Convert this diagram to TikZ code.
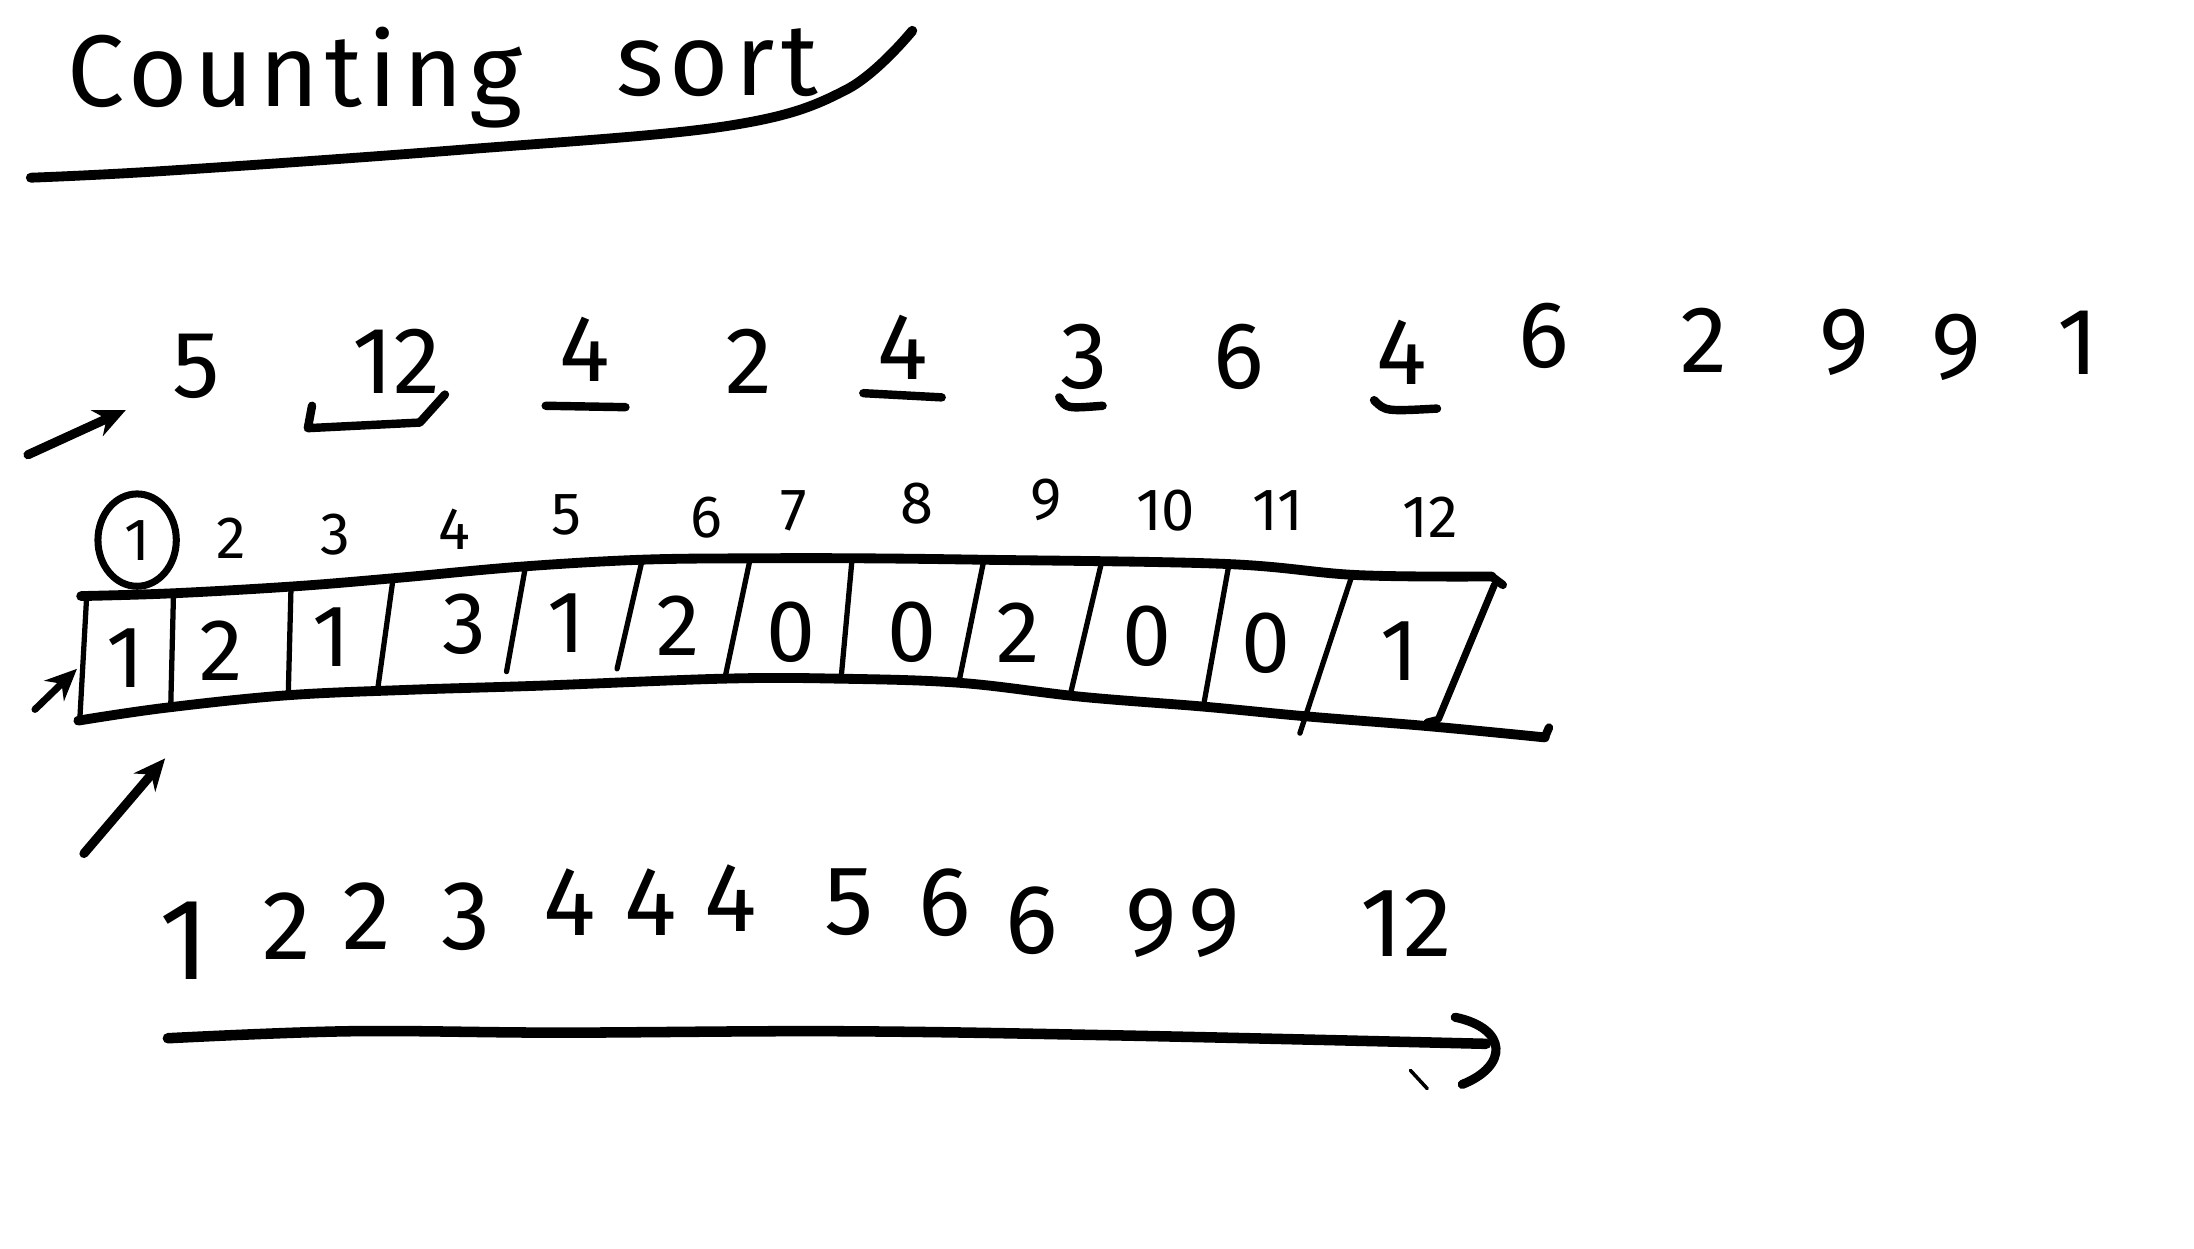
\documentclass[tikz,border=0pt]{standalone}
\usepackage{fontspec}
\setmainfont{Fira Sans}
\usetikzlibrary{arrows.meta}
\begin{document}
\begin{tikzpicture}[x=0.014cm,y=-0.014cm,
  pen/.style={line width=2.4pt,line cap=round,line join=round},
  thinpen/.style={line width=1.5pt,line cap=round,line join=round},
  penarrow/.style={line width=2.6pt,line cap=round,-{Stealth[length=9pt,width=8pt]}},
  titletxt/.style={font=\fontsize{29}{34}\selectfont\addfontfeature{LetterSpace=6},anchor=base west,inner sep=0pt},
  inputnum/.style={font=\fontsize{27}{32}\selectfont,inner sep=0pt},
  idxnum/.style={font=\fontsize{17}{20}\selectfont,inner sep=0pt},
  cellnum/.style={font=\fontsize{25}{30}\selectfont,inner sep=0pt},
  outnum/.style={font=\fontsize{28}{34}\selectfont,inner sep=0pt}]
\useasboundingbox (0,0) rectangle (1568,892);

% title
\node[titletxt] (t1) at (48,76) {Counting};
\node[titletxt] (t2) at (440,68) {sort};
\draw[pen,line width=2.8pt] plot[smooth,tension=0.6] coordinates {(22,127) (120,122) (330,107) (520,90) (605,64) (652,22)};

% input row
\node[inputnum] (a1) at (140,262) {5};
\node[inputnum] (a2) at (283,258) {12};
\node[inputnum] (a3) at (418,250) {4};
\node[inputnum] (a4) at (535,258) {2};
\node[inputnum] (a5) at (645,248) {4};
\node[inputnum] (a6) at (775,255) {3};
\node[inputnum] (a7) at (885,255) {6};
\node[inputnum] (a8) at (1002,252) {4};
\node[inputnum] (a9) at (1103,240) {6};
\node[inputnum] (a10) at (1218,243) {2};
\node[inputnum] (a11) at (1318,245) {9};
\node[inputnum] (a12) at (1398,248) {9};
\node[inputnum] (a13) at (1485,245) {1};
\draw[pen] (223,290) -- (220,306) -- (300,302) -- (318,282);
\draw[pen] (390,290) -- (447,291);
\draw[pen] (617,281) -- (673,284);
\draw[pen] (757,284) .. controls (762,292) .. (788,290);
\draw[pen] (982,286) .. controls (990,294) .. (1027,292);
\coordinate (p1s) at (20,325);
\coordinate (p1e) at (90,293);
\draw[penarrow] (p1s) -- (p1e);

% index row
\node[idxnum] (i1) at (98,386) {1};
\draw[pen,line width=2pt] (i1) ellipse [x radius=28, y radius=33];
\node[idxnum] (i2) at (165,385) {2};
\node[idxnum] (i3) at (240,382) {3};
\node[idxnum] (i4) at (325,378) {4};
\node[idxnum] (i5) at (405,368) {5};
\node[idxnum] (i6) at (505,370) {6};
\node[idxnum] (i7) at (567,365) {7};
\node[idxnum] (i8) at (655,360) {8};
\node[idxnum] (i9) at (748,357) {9};
\node[idxnum] (i10) at (833,365) {10};
\node[idxnum] (i11) at (913,365) {11};
\node[idxnum] (i12) at (1022,370) {12};

% count array
\draw[pen,line width=2.8pt] plot[smooth,tension=0.6] coordinates {(58,426) (124,424) (211,419) (284,413) (372,405) (459,400) (540,399) (613,399) (700,400) (875,403) (970,411) (1066,412)};
\draw[pen] (1066,412) -- (1074,418);
\draw[pen,line width=2.8pt] plot[smooth,tension=0.6] coordinates {(56,515) (117,506) (204,497) (292,493) (387,490) (518,485) (598,485) (686,488) (773,498) (860,505) (934,512) (1021,519) (1104,527)};
\draw[pen] (1104,527) -- (1107,520);
\draw[thinpen] (62,425) -- (57,515);
\draw[thinpen] (124,424) -- (122,506);
\draw[thinpen] (208,419) -- (206,497);
\draw[thinpen] (281,413) -- (270,492);
\draw[thinpen] (375,408) -- (362,480);
\draw[thinpen] (459,400) -- (441,478);
\draw[thinpen] (536,400) -- (518,485);
\draw[thinpen] (609,399) -- (601,486);
\draw[thinpen] (703,401) -- (685,489);
\draw[thinpen] (787,403) -- (765,496);
\draw[thinpen] (878,405) -- (860,505);
\draw[thinpen] (966,412) -- (929,524);
\draw[pen,line width=2pt] (1068,418) -- (1028,514) -- (1020,516);

\node[cellnum] (c1) at (90,470) {1};
\node[cellnum] (c2) at (158,465) {2};
\node[cellnum] (c3) at (237,455) {1};
\node[cellnum] (c4) at (332,446) {3};
\node[cellnum] (c5) at (405,445) {1};
\node[cellnum] (c6) at (485,447) {2};
\node[cellnum] (c7) at (565,452) {0};
\node[cellnum] (c8) at (652,452) {0};
\node[cellnum] (c9) at (728,452) {2};
\node[cellnum] (c10) at (820,455) {0};
\node[cellnum] (c11) at (905,460) {0};
\node[cellnum] (c12) at (1000,465) {1};

\coordinate (p2s) at (25,507);
\coordinate (p2e) at (55,478);
\draw[penarrow,line width=2pt] (p2s) -- (p2e);
\coordinate (p3s) at (60,610);
\coordinate (p3e) at (118,542);
\draw[penarrow] (p3s) -- (p3e);

% sorted output
\node[outnum,font=\fontsize{33}{38}\selectfont] (b1) at (132,672) {1};
\node[outnum] (b2) at (205,662) {2};
\node[outnum] (b3) at (262,655) {2};
\node[outnum] (b4) at (333,655) {3};
\node[outnum] (b5) at (407,645) {4};
\node[outnum] (b6) at (465,645) {4};
\node[outnum] (b7) at (522,642) {4};
\node[outnum] (b8) at (607,645) {5};
\node[outnum] (b9) at (675,645) {6};
\node[outnum] (b10) at (737,658) {6};
\node[outnum] (b11) at (823,660) {9};
\node[outnum] (b12) at (868,660) {9};
\node[outnum] (b13) at (1005,660) {12};

\draw[pen,line width=3pt] plot[smooth,tension=0.6] coordinates {(120,742) (250,737) (400,738) (600,737) (800,740) (1062,746)};
\draw[pen,line width=2.6pt] (1040,727) .. controls (1078,735) and (1078,762) .. (1045,775);
\draw[line width=1pt,line cap=round] (1008,765) -- (1020,778);
\end{tikzpicture}
\end{document}
